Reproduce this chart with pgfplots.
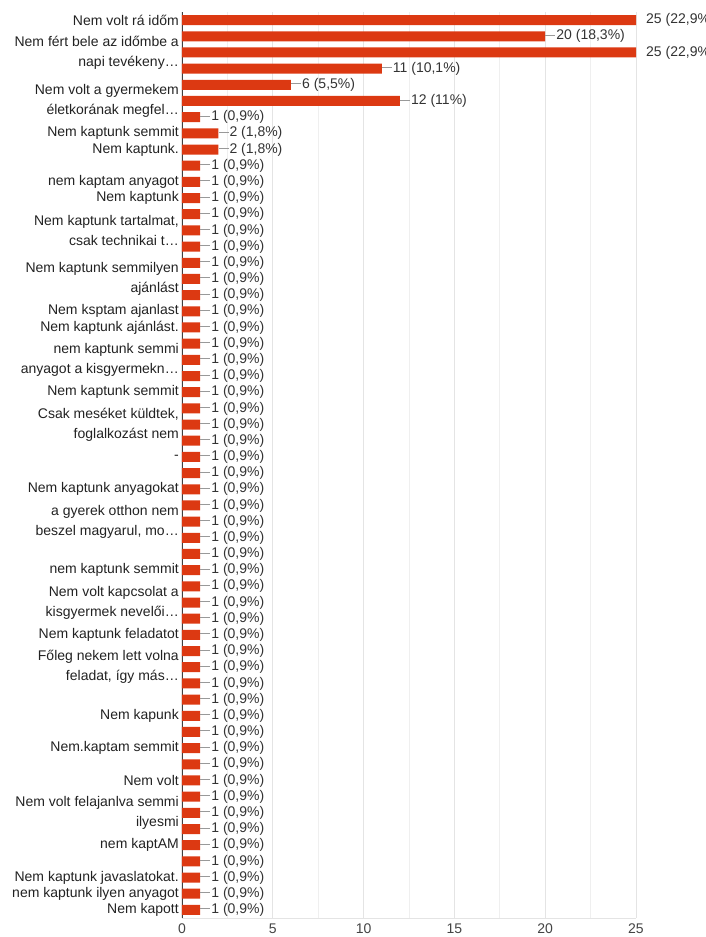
\documentclass[border=0pt]{standalone}
\usepackage{fontspec}
\setmainfont{Liberation Sans}
\usepackage{pgfplots}
\pgfplotsset{compat=1.18}

\definecolor{barred}{HTML}{DC3912}
\definecolor{catc}{HTML}{222222}
\definecolor{valc}{HTML}{333333}
\definecolor{tickc}{HTML}{444444}
\definecolor{gridc}{HTML}{E4E4E4}
\definecolor{minorc}{HTML}{EFEFEF}
\definecolor{connc}{HTML}{999999}

% short grey line between a bar and its label
\newcommand\conn{{\color{connc}\rule[4.3bp]{10bp}{0.8bp}}\hspace{1bp}}
\newcommand\lblfont{\fontsize{14bp}{20bp}\selectfont}

\begin{document}
\begin{tikzpicture}
\begin{axis}[
    name=ax,
    xbar, bar width=10bp, bar shift=0pt,
    scale only axis, width=454bp, height=906bp,
    xmin=0, xmax=25, ymin=0.5, ymax=56.5, y dir=reverse,
    axis line style={draw=none},
    tick style={draw=none},
    major tick length=0pt, minor tick length=0pt,
    xtick={0,5,...,25}, minor x tick num=1,
    xmajorgrids, xminorgrids,
    major grid style={gridc, line width=0.8bp},
    minor grid style={minorc, line width=0.8bp},
    /pgf/number format/assume math mode=true,
    xticklabel style={font=\lblfont, text=tickc, yshift=-2bp},
    ytick={1,...,56},
    yticklabel style={font=\lblfont, text=catc, align=right, inner xsep=3bp},
    yticklabels={
      Nem volt rá időm,{},
      {Nem fért bele az időmbe a\\napi tevékeny…},{},{},
      {Nem volt a gyermekem\\életkorának megfel…},{},
      Nem kaptunk semmit,Nem kaptunk.,{},
      nem kaptam anyagot,Nem kaptunk,{},
      {Nem kaptunk tartalmat,\\csak technikai t…},{},{},
      {Nem kaptunk semmilyen\\ajánlást},{},
      Nem ksptam ajanlast,Nem kaptunk ajánlást.,{},
      {nem kaptunk semmi\\anyagot a kisgyermekn…},{},
      Nem kaptunk semmit,{},
      {Csak meséket küldtek,\\foglalkozást nem},{},
      -,{},Nem kaptunk anyagokat,{},
      {a gyerek otthon nem\\beszel magyarul, mo…},{},{},
      nem kaptunk semmit,{},
      {Nem volt kapcsolat a\\kisgyermek nevelői…},{},
      Nem kaptunk feladatot,{},
      {Főleg nekem lett volna\\feladat, így más…},{},{},
      Nem kapunk,{},Nem.kaptam semmit,{},Nem volt,{},
      {Nem volt felajanlva semmi\\ilyesmi},{},
      nem kaptAM,{},
      Nem kaptunk javaslatokat.,nem kaptunk ilyen anyagot,Nem kapott
    },
]

\draw[black!75, line width=1.3bp] (axis cs:0,0.5) -- (axis cs:0,56.5);
\draw[gridc, line width=0.8bp] (axis cs:0,56.5) -- (axis cs:25,56.5);

% the two longest bars: label outside the plot, no connector
\addplot[fill=barred, draw=none, point meta=explicit symbolic,
    nodes near coords={\hspace*{10bp}\pgfplotspointmeta},
    every node near coord/.append style={anchor=west, inner sep=0pt, font=\lblfont, text=valc}]
coordinates {(25,1) [25 (22,9\%)] (25,3) [25 (22,9\%)]};

\addplot[fill=barred, draw=none, point meta=explicit symbolic,
    nodes near coords={\conn\pgfplotspointmeta},
    every node near coord/.append style={anchor=west, inner sep=0pt, font=\lblfont, text=valc}]
coordinates {
    (20,2) [20 (18,3\%)] (11,4) [11 (10,1\%)] (6,5) [6 (5,5\%)] (12,6) [12 (11\%)]
    (1,7) [1 (0,9\%)] (2,8) [2 (1,8\%)] (2,9) [2 (1,8\%)]
    (1,10) [1 (0,9\%)] (1,11) [1 (0,9\%)] (1,12) [1 (0,9\%)] (1,13) [1 (0,9\%)]
    (1,14) [1 (0,9\%)] (1,15) [1 (0,9\%)] (1,16) [1 (0,9\%)] (1,17) [1 (0,9\%)]
    (1,18) [1 (0,9\%)] (1,19) [1 (0,9\%)] (1,20) [1 (0,9\%)] (1,21) [1 (0,9\%)]
    (1,22) [1 (0,9\%)] (1,23) [1 (0,9\%)] (1,24) [1 (0,9\%)] (1,25) [1 (0,9\%)]
    (1,26) [1 (0,9\%)] (1,27) [1 (0,9\%)] (1,28) [1 (0,9\%)] (1,29) [1 (0,9\%)]
    (1,30) [1 (0,9\%)] (1,31) [1 (0,9\%)] (1,32) [1 (0,9\%)] (1,33) [1 (0,9\%)]
    (1,34) [1 (0,9\%)] (1,35) [1 (0,9\%)] (1,36) [1 (0,9\%)] (1,37) [1 (0,9\%)]
    (1,38) [1 (0,9\%)] (1,39) [1 (0,9\%)] (1,40) [1 (0,9\%)] (1,41) [1 (0,9\%)]
    (1,42) [1 (0,9\%)] (1,43) [1 (0,9\%)] (1,44) [1 (0,9\%)] (1,45) [1 (0,9\%)]
    (1,46) [1 (0,9\%)] (1,47) [1 (0,9\%)] (1,48) [1 (0,9\%)] (1,49) [1 (0,9\%)]
    (1,50) [1 (0,9\%)] (1,51) [1 (0,9\%)] (1,52) [1 (0,9\%)] (1,53) [1 (0,9\%)]
    (1,54) [1 (0,9\%)] (1,55) [1 (0,9\%)] (1,56) [1 (0,9\%)]
};

\end{axis}
\pgfresetboundingbox
\path[use as bounding box] ([xshift=-182bp,yshift=-19bp]ax.south west)
    rectangle ([xshift=70bp,yshift=12bp]ax.north east);
\end{tikzpicture}
\end{document}
